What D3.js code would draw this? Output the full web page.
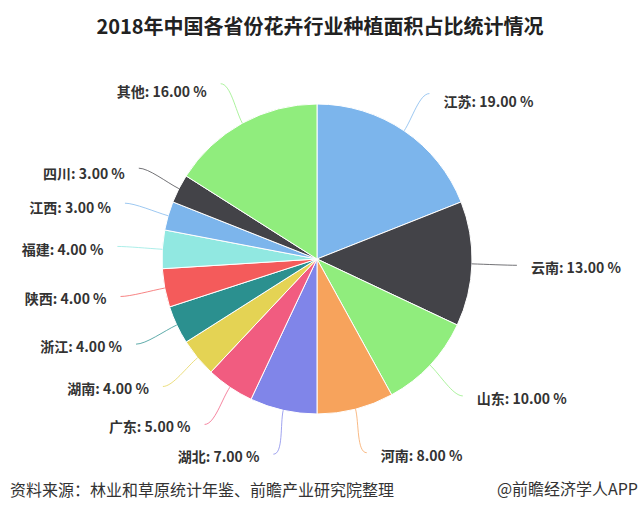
<!DOCTYPE html>
<html><head><meta charset="utf-8">
<script src="https://cdn.jsdelivr.net/npm/d3@7"></script>
<style>
html,body{margin:0;padding:0;background:#fff;}
svg{display:block;font-family:"Noto Sans CJK SC","Noto Sans",sans-serif;}
</style></head>
<body>
<svg id="chart" width="640" height="514"></svg>
<script>
const categories = ["江苏","云南","山东","河南","湖北","广东","湖南","浙江","陕西","福建","江西","四川","其他"];
const values = [19,13,10,8,7,5,4,4,4,4,3,3,16];
const colors = ["#7cb5ec","#434348","#90ed7d","#f7a35c","#8085e9","#f15c80","#e4d354","#2b908f","#f45b5b","#91e8e1","#7cb5ec","#434348","#90ed7d"];
const title = "2018年中国各省份花卉行业种植面积占比统计情况";
const source = "资料来源：林业和草原统计年鉴、前瞻产业研究院整理";
const credit = "@前瞻经济学人APP";

const svg = d3.select("#chart");
const W = 640, H = 514;
const cx = 317, cy = 259, r = 155, labelR = 200;

svg.append("rect").attr("width",W).attr("height",H).attr("fill","#fff");

svg.append("text").attr("x",320).attr("y",25).attr("text-anchor","middle")
  .attr("dominant-baseline","central").attr("font-size",20).attr("font-weight",600)
  .attr("fill","#222").text(title);

const data = categories.map((c,i)=>({name:c,value:values[i],color:colors[i]}));
const pie = d3.pie().value(d=>d.value).sort(null).startAngle(0).endAngle(2*Math.PI);
const arcs = pie(data);
const arc = d3.arc().innerRadius(0).outerRadius(r);

const g = svg.append("g").attr("transform",`translate(${cx},${cy})`);
g.selectAll("path.slice").data(arcs).join("path").attr("class","slice")
  .attr("d",arc).attr("fill",d=>d.data.color).attr("stroke","#fff").attr("stroke-width",1);

arcs.forEach(a=>{
  const m = (a.startAngle+a.endAngle)/2;
  const sx = Math.sin(m), cyv = -Math.cos(m);
  const right = sx >= 0;
  const dir = right ? 1 : -1;
  const ex = r*sx, ey = r*cyv;
  const lx = labelR*sx, ly = labelR*cyv;
  const path = `M${ex},${ey} C${ex+sx*14},${ey+cyv*14} ${lx-dir*10},${ly} ${lx},${ly}`;
  g.append("path").attr("d",path).attr("fill","none").attr("stroke",a.data.color)
    .attr("stroke-width",1).attr("opacity",0.75);
  const ty = ly + 2 + 6*Math.max(0, Math.cos(m));
  g.append("text").attr("x",lx+dir*14).attr("y",ty)
    .attr("text-anchor", right ? "start" : "end").attr("dominant-baseline","central")
    .attr("font-size",14).attr("font-weight","bold").attr("fill","#333")
    .text(`${a.data.name}: ${a.data.value.toFixed(2)} %`);
});

svg.append("text").attr("x",10).attr("y",489).attr("dominant-baseline","central")
  .attr("font-size",16).attr("fill","#333").text(source);
svg.append("text").attr("x",638).attr("y",488).attr("text-anchor","end").attr("dominant-baseline","central")
  .attr("font-size",16).attr("fill","#333").text(credit);
</script>
</body></html>
